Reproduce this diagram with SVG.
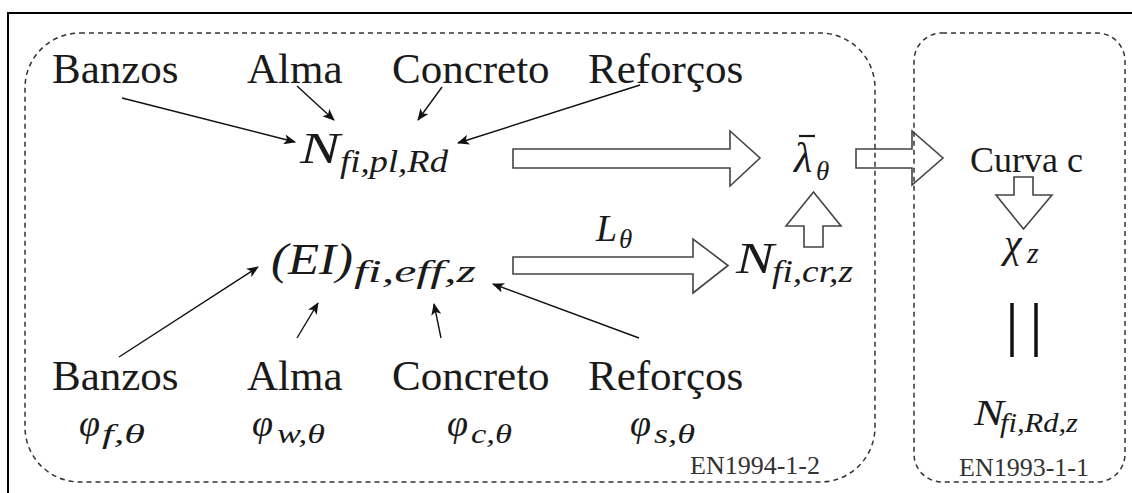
<svg xmlns="http://www.w3.org/2000/svg" width="1132" height="493" viewBox="0 0 1132 493">
  <style>
    .lbl { font-family: "Liberation Serif", "Times New Roman", serif; fill: #1a1a1a; }
    .big { font-size: 43px; }
    .mid { font-size: 36px; }
    .std { font-family: "Liberation Serif", "Times New Roman", serif; font-size: 26px; fill: #333; }
    .m { font-family: "Liberation Serif", "Times New Roman", serif; font-style: italic; fill: #1a1a1a; }
    .dash { fill: none; stroke: #333; stroke-width: 1.5; stroke-dasharray: 5 4; }
    .block { fill: #fff; stroke: #444; stroke-width: 1.6; stroke-linejoin: miter; }
    .thin { stroke: #111; stroke-width: 1.4; fill: none; marker-end: url(#head); }
  </style>
  <defs>
    <marker id="head" viewBox="0 0 12 10" refX="11" refY="5" markerWidth="12" markerHeight="10" markerUnits="userSpaceOnUse" orient="auto">
      <path d="M0,0 L12,5 L0,10 L3,5 z" fill="#111"/>
    </marker>
  </defs>

  <rect width="1132" height="493" fill="#fff"/>
  <!-- outer frame -->
  <rect x="8" y="13" width="1140" height="500" fill="none" stroke="#000" stroke-width="2"/>

  <!-- block arrows -->
  <g id="flow">
    <path class="block" d="M513,149 H730 V131 L760,158 L730,186 V168 H513 Z"/>
    <path class="block" d="M513,257 H693 V239 L728,265.5 L693,293 V274 H513 Z"/>
    <path class="block" d="M856,149 H912 V131 L943,158 L912,185 V168 H856 Z"/>
    <path class="block" d="M804,247 V226 H786 L813.5,192 L841,226 H823 V247 Z"/>
    <path class="block" d="M1014,177 H1033 V195 H1052 L1023.5,229 L996,195 H1014 Z"/>
  </g>

  <!-- standard groups -->
  <rect id="en1994" class="dash" x="25" y="33" width="850" height="449" rx="55" ry="55"/>
  <rect id="en1993" class="dash" x="914" y="33" width="211" height="449" rx="28" ry="28"/>

  <!-- thin connectors -->
  <g id="connectors">
    <line class="thin" x1="122" y1="98" x2="295" y2="142"/>
    <line class="thin" x1="297" y1="86" x2="334" y2="120"/>
    <line class="thin" x1="442" y1="87" x2="418" y2="120"/>
    <line class="thin" x1="640" y1="85" x2="458" y2="143"/>
    <line class="thin" x1="119" y1="357" x2="258" y2="267"/>
    <line class="thin" x1="297" y1="338" x2="318" y2="303"/>
    <line class="thin" x1="441" y1="338" x2="434" y2="304"/>
    <line class="thin" x1="639" y1="338" x2="493" y2="284"/>
  </g>

  <!-- top inputs -->
  <g id="top-banzos"><text class="lbl big" x="52" y="83">Banzos</text></g>
  <g id="top-alma"><text class="lbl big" x="247" y="83">Alma</text></g>
  <g id="top-concreto"><text class="lbl big" x="392" y="83">Concreto</text></g>
  <g id="top-reforcos"><text class="lbl big" x="588" y="83">Reforços</text></g>

  <!-- plastic resistance -->
  <g id="n-pl-rd">
    <text class="m" x="300" y="163" font-size="44" textLength="40" lengthAdjust="spacingAndGlyphs">N</text>
    <text class="m" x="340" y="172" font-size="31" textLength="108" lengthAdjust="spacingAndGlyphs">fi,pl,Rd</text>
  </g>

  <!-- effective stiffness -->
  <g id="ei-eff">
    <text class="m" x="271" y="274" font-size="44" textLength="82" lengthAdjust="spacingAndGlyphs">(EI)</text>
    <text class="m" x="354" y="282" font-size="31" textLength="122" lengthAdjust="spacingAndGlyphs">fi,eff,z</text>
  </g>

  <!-- buckling length -->
  <g id="l-theta">
    <text class="m" x="596" y="241" font-size="38">L</text>
    <text class="m" x="619" y="248" font-size="27">θ</text>
  </g>

  <!-- critical load -->
  <g id="n-cr">
    <text class="m" x="736" y="273" font-size="44" textLength="38" lengthAdjust="spacingAndGlyphs">N</text>
    <text class="m" x="772" y="282" font-size="31" textLength="81" lengthAdjust="spacingAndGlyphs">fi,cr,z</text>
  </g>

  <!-- slenderness -->
  <g id="lambda">
    <line x1="799" y1="136" x2="815" y2="136" stroke="#1a1a1a" stroke-width="2.2"/>
    <text class="m" x="794" y="172" font-size="42">λ</text>
    <text class="m" x="816" y="180" font-size="27">θ</text>
  </g>

  <!-- buckling curve -->
  <g id="curva"><text class="lbl mid" x="970" y="172">Curva c</text></g>

  <!-- reduction factor -->
  <g id="chi">
    <text class="m" x="1004" y="257" font-size="40">χ</text>
    <text class="m" x="1027" y="263" font-size="30">z</text>
  </g>

  <!-- equality -->
  <g id="equals">
    <line x1="1012" y1="303" x2="1012" y2="357" stroke="#111" stroke-width="3.5"/>
    <line x1="1036" y1="303" x2="1036" y2="357" stroke="#111" stroke-width="3.5"/>
  </g>

  <!-- design buckling resistance -->
  <g id="n-rd">
    <text class="m" x="974" y="425" font-size="36" textLength="30" lengthAdjust="spacingAndGlyphs">N</text>
    <text class="m" x="1000" y="432" font-size="27" textLength="78" lengthAdjust="spacingAndGlyphs">fi,Rd,z</text>
  </g>

  <!-- bottom inputs -->
  <g id="bot-banzos">
    <text class="lbl big" x="52" y="390">Banzos</text>
    <text class="m" x="79" y="436" font-size="38">φ</text>
    <text class="m" x="102" y="443" font-size="28" textLength="43" lengthAdjust="spacingAndGlyphs">f,θ</text>
  </g>
  <g id="bot-alma">
    <text class="lbl big" x="247" y="390">Alma</text>
    <text class="m" x="252" y="436" font-size="38">φ</text>
    <text class="m" x="277" y="443" font-size="28" textLength="48" lengthAdjust="spacingAndGlyphs">w,θ</text>
  </g>
  <g id="bot-concreto">
    <text class="lbl big" x="392" y="390">Concreto</text>
    <text class="m" x="447" y="436" font-size="38">φ</text>
    <text class="m" x="471" y="443" font-size="28" textLength="41" lengthAdjust="spacingAndGlyphs">c,θ</text>
  </g>
  <g id="bot-reforcos">
    <text class="lbl big" x="588" y="390">Reforços</text>
    <text class="m" x="630" y="436" font-size="38">φ</text>
    <text class="m" x="654" y="443" font-size="28" textLength="41" lengthAdjust="spacingAndGlyphs">s,θ</text>
  </g>

  <!-- standard labels -->
  <text class="std" x="690" y="474">EN1994-1-2</text>
  <text class="std" x="959" y="476">EN1993-1-1</text>
</svg>
